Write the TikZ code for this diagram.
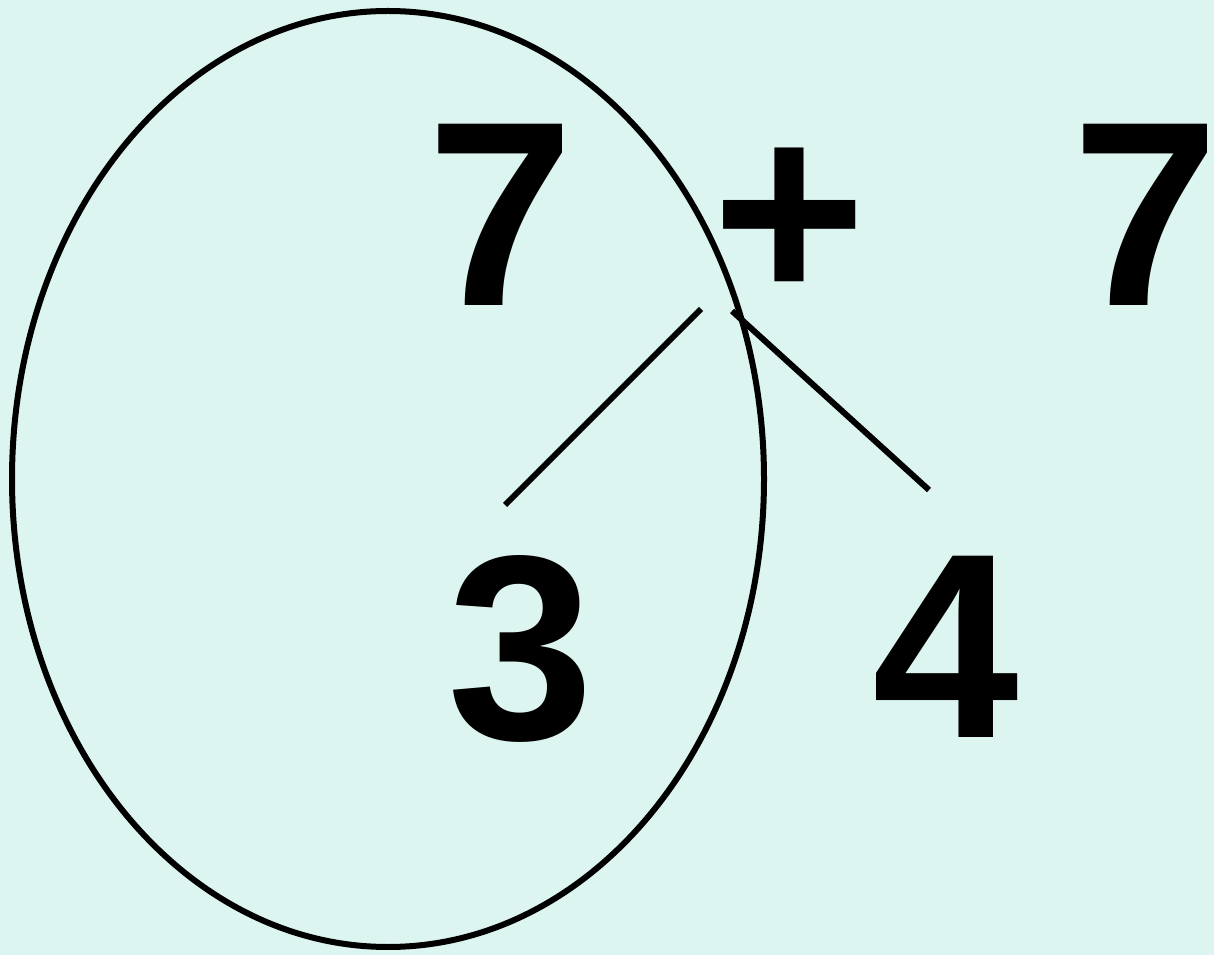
\documentclass[tikz,border=0pt]{standalone}
\usepackage{fontspec}
\setmainfont{Liberation Sans}
\usepackage{tikz}
\usetikzlibrary{positioning}
\definecolor{bgmint}{RGB}{221,245,240}
\newcommand{\bignum}{\bfseries\fontsize{150}{156}\selectfont}

\begin{document}
\begin{tikzpicture}[
    x=0.02cm, y=-0.02cm,
    digit/.style={font=\bignum, inner sep=0pt},
    stroke/.style={line width=0.12cm}
]
\fill[bgmint] (0,0) rectangle (1214,955);
\useasboundingbox (0,0) rectangle (1214,955);

\node[digit] (seven) at (501,214.5) {7};
\node[digit] (plus) at (789,225) {+};
\node[digit] (sevenr) at (1146,214.5) {7};
\node[digit] (three) at (521,649) {3};
\node[digit] (four) at (946,647) {4};

\draw[stroke] (388,479) ellipse [x radius=376, y radius=468];

\coordinate (splitl) at (701,309);
\coordinate (splitr) at (732,311);
\coordinate (endl) at (505,505);
\coordinate (endr) at (929,490);
\draw[stroke] (splitl) -- (endl);
\draw[stroke] (splitr) -- (endr);
\end{tikzpicture}
\end{document}
